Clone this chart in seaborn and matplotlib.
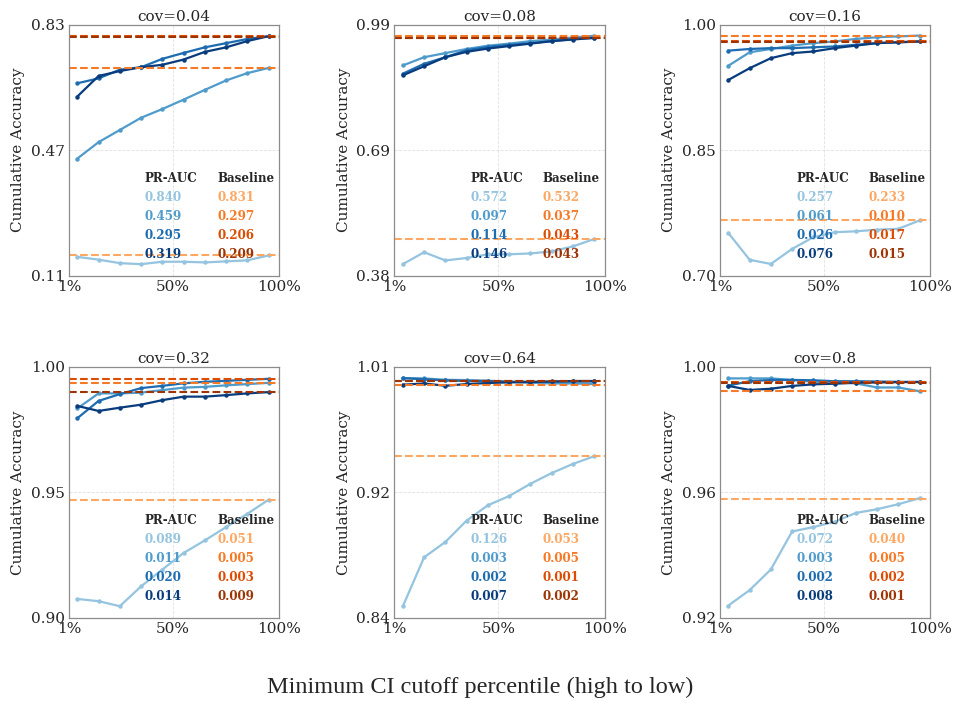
import numpy as np
import pandas as pd
import matplotlib
matplotlib.use("Agg")
import matplotlib.pyplot as plt
import seaborn as sns

# cutoff percentiles (x) shared by all panels
cutoffs = [5, 15, 25, 35, 45, 55, 65, 75, 85, 95]
covs = ["0.04", "0.08", "0.16", "0.32", "0.64", "0.8"]

# cumulative accuracy curves, 4 series per panel (light -> dark blue)
acc_004 = [
    [0.164, 0.156, 0.146, 0.143, 0.150, 0.150, 0.148, 0.151, 0.154, 0.168],
    [0.446, 0.493, 0.528, 0.563, 0.588, 0.615, 0.643, 0.670, 0.691, 0.706],
    [0.662, 0.676, 0.701, 0.708, 0.732, 0.749, 0.765, 0.777, 0.789, 0.797],
    [0.624, 0.683, 0.697, 0.708, 0.715, 0.730, 0.752, 0.765, 0.783, 0.797],
]
acc_008 = [
    [0.408, 0.437, 0.417, 0.423, 0.432, 0.432, 0.434, 0.439, 0.451, 0.469],
    [0.891, 0.911, 0.921, 0.931, 0.939, 0.944, 0.950, 0.954, 0.959, 0.963],
    [0.871, 0.895, 0.911, 0.928, 0.936, 0.941, 0.945, 0.950, 0.955, 0.958],
    [0.867, 0.889, 0.911, 0.924, 0.932, 0.938, 0.944, 0.950, 0.954, 0.958],
]
acc_016 = [
    [0.751, 0.719, 0.714, 0.732, 0.746, 0.752, 0.753, 0.755, 0.756, 0.766],
    [0.951, 0.967, 0.971, 0.975, 0.978, 0.980, 0.983, 0.985, 0.986, 0.987],
    [0.969, 0.971, 0.972, 0.972, 0.973, 0.974, 0.976, 0.978, 0.979, 0.980],
    [0.934, 0.948, 0.960, 0.966, 0.968, 0.972, 0.975, 0.978, 0.979, 0.980],
]
acc_032 = [
    [0.9075, 0.9066, 0.9046, 0.9125, 0.9192, 0.9258, 0.9308, 0.9361, 0.9414, 0.9470],
    [0.9834, 0.9894, 0.9894, 0.9897, 0.9907, 0.9917, 0.9920, 0.9926, 0.9931, 0.9936],
    [0.9795, 0.9864, 0.9891, 0.9915, 0.9924, 0.9934, 0.9940, 0.9944, 0.9948, 0.9952],
    [0.9844, 0.9824, 0.9837, 0.9849, 0.9867, 0.9881, 0.9881, 0.9887, 0.9894, 0.9899],
]
acc_064 = [
    [0.850, 0.882, 0.892, 0.906, 0.916, 0.922, 0.930, 0.937, 0.943, 0.948],
    [0.9991, 0.9989, 0.9980, 0.9978, 0.9974, 0.9967, 0.9961, 0.9956, 0.9956, 0.9952],
    [0.9991, 0.9983, 0.9976, 0.9972, 0.9972, 0.9967, 0.9967, 0.9967, 0.9969, 0.9969],
    [0.9948, 0.9956, 0.9941, 0.9952, 0.9959, 0.9963, 0.9965, 0.9969, 0.9972, 0.9972],
]
acc_080 = [
    [0.9239, 0.9288, 0.9354, 0.9475, 0.9489, 0.9506, 0.9534, 0.9546, 0.9562, 0.9581],
    [0.9963, 0.9963, 0.9963, 0.9958, 0.9952, 0.9952, 0.9947, 0.9934, 0.9934, 0.9922],
    [0.9940, 0.9954, 0.9958, 0.9958, 0.9957, 0.9954, 0.9954, 0.9953, 0.9952, 0.9951],
    [0.9939, 0.9926, 0.9930, 0.9939, 0.9944, 0.9946, 0.9949, 0.9950, 0.9951, 0.9952],
]
curves = [acc_004, acc_008, acc_016, acc_032, acc_064, acc_080]

# baseline accuracies (dashed lines, light -> dark orange)
baselines = [
    [0.168, 0.706, 0.798, 0.796],
    [0.469, 0.963, 0.958, 0.957],
    [0.766, 0.986, 0.981, 0.979],
    [0.947, 0.9936, 0.9953, 0.9899],
    [0.948, 0.9943, 0.9972, 0.9973],
    [0.958, 0.9922, 0.9952, 0.9947],
]

# PR-AUC / baseline table texts
pr_auc = [
    ["0.840", "0.459", "0.295", "0.319"],
    ["0.572", "0.097", "0.114", "0.146"],
    ["0.257", "0.061", "0.026", "0.076"],
    ["0.089", "0.011", "0.020", "0.014"],
    ["0.126", "0.003", "0.002", "0.007"],
    ["0.072", "0.003", "0.002", "0.008"],
]
base_auc = [
    ["0.831", "0.297", "0.206", "0.209"],
    ["0.532", "0.037", "0.043", "0.043"],
    ["0.233", "0.010", "0.017", "0.015"],
    ["0.051", "0.005", "0.003", "0.009"],
    ["0.053", "0.005", "0.001", "0.002"],
    ["0.040", "0.005", "0.002", "0.001"],
]

ylims = [(0.11, 0.83), (0.38, 0.99), (0.70, 1.00),
         (0.90, 1.00), (0.8425, 1.0065), (0.92, 1.00)]

sns.set_style("white")
plt.rcParams["font.family"] = "serif"
plt.rcParams["font.serif"] = ["DejaVu Serif", "Liberation Serif"]

blues = plt.cm.Blues(np.linspace(0.4, 0.95, 4))
oranges = plt.cm.Oranges(np.linspace(0.4, 0.9, 4))

fig, axes = plt.subplots(2, 3, figsize=(9.56, 7.06), dpi=100)
fig.subplots_adjust(left=0.072, right=0.973, top=0.965, bottom=0.125,
                    wspace=0.548, hspace=0.363)

for i, ax in enumerate(axes.flat):
    for k in range(4):
        df = pd.DataFrame({"cutoff": cutoffs, "acc": curves[i][k]})
        sns.lineplot(data=df, x="cutoff", y="acc", ax=ax, color=blues[k],
                     lw=1.6, marker="o", markersize=3.2, markeredgewidth=0)
    for k in range(4):
        ax.axhline(baselines[i][k], color=oranges[k], ls="--", lw=1.5)

    lo, hi = ylims[i]
    ax.set_xlim(1, 100)
    ax.set_ylim(lo, hi)
    yt = np.linspace(lo, hi, 3)
    ax.set_yticks(yt)
    ax.set_yticklabels([f"{v:.2f}" for v in yt])
    ax.set_xticks([1, 50, 100])
    ax.set_xticklabels(["1%", "50%", "100%"])
    ax.tick_params(axis="y", labelsize=11, length=0, pad=3)
    ax.tick_params(axis="x", labelsize=11, length=0, pad=3)
    ax.grid(True, ls="--", lw=0.6, color="0.85", alpha=0.8)
    for s in ax.spines.values():
        s.set_color("0.55")
        s.set_linewidth(0.9)
    ax.set_title(f"cov={covs[i]}", fontsize=11, pad=3)
    ax.set_xlabel("")
    ax.set_ylabel("Cumulative Accuracy", fontsize=11)

    # small table of PR-AUC values
    ax.text(0.362, 0.388, "PR-AUC", transform=ax.transAxes, fontsize=8.6,
            fontweight="bold", va="center")
    ax.text(0.705, 0.388, "Baseline", transform=ax.transAxes, fontsize=8.6,
            fontweight="bold", va="center")
    for k in range(4):
        yy = 0.31 - k * 0.0755
        ax.text(0.362, yy, pr_auc[i][k], transform=ax.transAxes, fontsize=8.6,
                fontweight="bold", va="center", color=blues[k])
        ax.text(0.705, yy, base_auc[i][k], transform=ax.transAxes, fontsize=8.6,
                fontweight="bold", va="center", color=oranges[k])

fig.text(0.502, 0.026, "Minimum CI cutoff percentile (high to low)",
         ha="center", va="center", fontsize=17.5, family="Liberation Serif")

fig.savefig("out.png", dpi=100)
